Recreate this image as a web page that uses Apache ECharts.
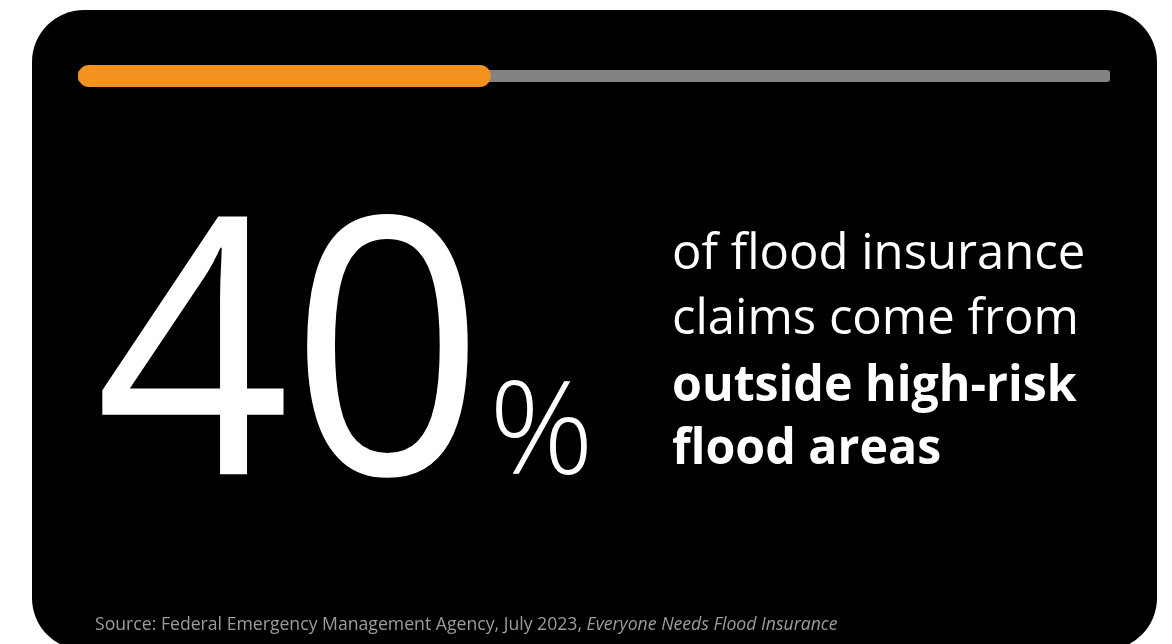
<!DOCTYPE html>
<html>
<head>
<meta charset="utf-8">
<script src="https://cdn.jsdelivr.net/npm/echarts@6/dist/echarts.min.js"></script>
<style>
  html, body { margin: 0; padding: 0; background: #ffffff; }
  #chart { width: 1172px; height: 644px; }
</style>
</head>
<body>
<div id="chart"></div>
<script>
// Share of flood insurance claims from outside high-risk flood areas
const barCategories = ['Flood insurance claims'];
const shareValues = [40];          // filled part of the progress track (%)
const trackValues = [100];         // full track (%)
const headlineLines = ['of flood insurance', 'claims come from'];
const emphasisLines = ['outside high-risk', 'flood areas'];
const sourcePlain = 'Source: Federal Emergency Management Agency, July 2023, ';
const sourceTitle = 'Everyone Needs Flood Insurance';

const chart = echarts.init(document.getElementById('chart'), null, { renderer: 'canvas' });

const FONT = '"Open Sans", "Noto Sans", Lato, sans-serif';
const shareLabel = String(shareValues[0]);

const textLines = headlineLines.map(function (t) { return { text: t, weight: 400, sx: 0.98 }; })
  .concat(emphasisLines.map(function (t) { return { text: t, weight: 700, sx: 0.966 }; }));

const graphics = [
  {
    type: 'rect',
    z: -10,
    shape: { x: 32, y: 10, width: 1125, height: 640, r: 52 },
    style: { fill: '#000000' }
  },
  {
    type: 'text',
    z: 10,
    x: 95,
    y: 372,
    scaleX: 0.95,
    style: {
      text: shareLabel,
      fill: '#ffffff',
      font: '400 359px ' + FONT,
      align: 'left',
      verticalAlign: 'middle'
    }
  },
  {
    type: 'text',
    z: 10,
    x: 489,
    y: 437,
    style: {
      text: '%',
      fill: '#ffffff',
      font: '300 130px ' + FONT,
      align: 'left',
      verticalAlign: 'middle'
    }
  },
  {
    type: 'text',
    z: 10,
    x: 95,
    y: 625,
    scaleX: 0.98,
    style: {
      text: '{a|' + sourcePlain + '}{b|' + sourceTitle + '}',
      verticalAlign: 'middle',
      align: 'left',
      rich: {
        a: { fill: '#9c9c9c', font: '18px ' + FONT },
        b: { fill: '#9c9c9c', font: 'italic 18px ' + FONT }
      }
    }
  }
];

const lineCenters = [255, 320, 387, 450];
textLines.forEach(function (ln, i) {
  graphics.push({
    type: 'text',
    z: 10,
    x: 672,
    y: lineCenters[i],
    scaleX: ln.sx,
    style: {
      text: ln.text,
      fill: '#ffffff',
      font: ln.weight + ' 50px ' + FONT,
      align: 'left',
      verticalAlign: 'middle'
    }
  });
});

chart.setOption({
  backgroundColor: 'transparent',
  animation: false,
  grid: { left: 78, right: 62, top: 56, height: 40, containLabel: false },
  xAxis: { type: 'value', min: 0, max: 100, show: false },
  yAxis: [
    { type: 'category', data: barCategories, show: false },
    { type: 'category', data: barCategories, show: false }
  ],
  graphic: graphics,
  series: [
    {
      name: 'Track',
      type: 'bar',
      yAxisIndex: 0,
      data: trackValues,
      barWidth: 12,
      itemStyle: { color: '#838383', borderRadius: 3 },
      z: 2,
      silent: true
    },
    {
      name: 'Share',
      type: 'bar',
      yAxisIndex: 1,
      data: shareValues,
      barWidth: 22,
      itemStyle: { color: '#f5921e', borderRadius: 11 },
      z: 3,
      silent: true
    }
  ]
});
</script>
</body>
</html>
